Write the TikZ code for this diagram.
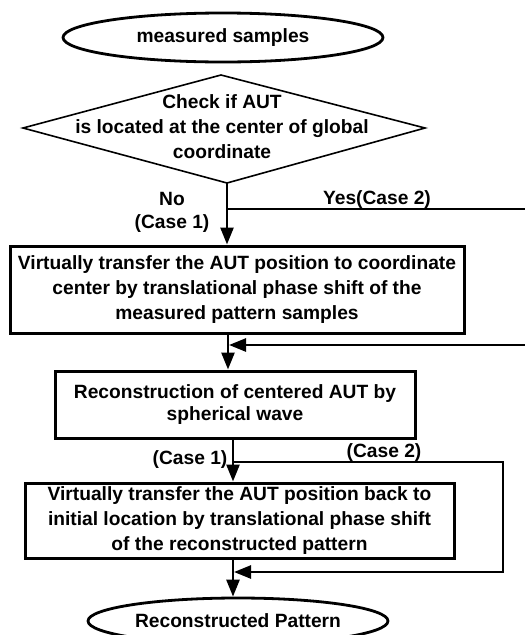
\documentclass[tikz,border=0pt]{standalone}
\usepackage{fontspec}
\setmainfont{Liberation Sans}
\usetikzlibrary{arrows.meta,shapes.geometric}
\begin{document}
\begin{tikzpicture}[x=1pt,y=-1pt,
  txt/.style={font=\bfseries\fontsize{19.2}{25}\selectfont, align=center, inner sep=0pt},
  boxnode/.style={draw, line width=3pt, inner sep=0pt, font=\bfseries\fontsize{19.2}{25}\selectfont, align=center},
  ovalnode/.style={draw, ellipse, line width=2.8pt, inner sep=0pt, font=\bfseries\fontsize{19.2}{25}\selectfont},
  conn/.style={line width=2.6pt, -{Triangle[length=17pt,width=13pt]}},
  plainline/.style={line width=2.6pt}]
\clip (0,0) rectangle (525,635);
% terminals
\node[ovalnode, minimum width=320pt, minimum height=49pt] (start) at (223,37.5) {measured samples};
\node[ovalnode, minimum width=300pt, minimum height=46pt] (stop) at (238,621) {Reconstructed Pattern};
% decision
\coordinate (dT) at (221,75);
\coordinate (dR) at (425,128);
\coordinate (dB) at (227,183);
\coordinate (dL) at (23,128);
\draw[line width=1.6pt, line join=miter] (dT) -- (dR) -- (dB) -- (dL) -- cycle;
\node[txt] (dtext) at (222,127) {Check if AUT\\is located at the center of global\\coordinate};
% process boxes
\node[boxnode, minimum width=454pt, minimum height=87pt] (box1) at (237,289.5)
  {Virtually transfer the AUT position to coordinate\\center by translational phase shift of the\\measured pattern samples};
\node[boxnode, minimum width=360pt, minimum height=67pt, font=\bfseries\fontsize{19.2}{21.5}\selectfont] (box2) at (235,404.5)
  {Reconstruction of centered AUT by\\spherical wave};
\node[boxnode, minimum width=429pt, minimum height=75pt] (box3) at (239.5,520.5)
  {Virtually transfer the AUT position back to\\initial location by translational phase shift\\of the reconstructed pattern};
% spine columns
\coordinate (colA) at (228,0);
\coordinate (colB) at (233,0);
% No branch
\draw[conn] (dB) -- (dB |- box1.north);
\node[txt] (nolbl) at (172,199) {No};
\node[txt] (case1a) at (172,224) {(Case 1)};
% Yes branch (leaves the picture at the right and returns)
\coordinate (ys) at (228,209);
\coordinate (ye1) at (545,209);
\coordinate (ye2) at (545,345);
\coordinate (yin) at (229,345);
\draw[conn] (ys) -- (ye1) -- (ye2) -- (yin);
\node[txt] (yeslbl) at (377,200) {Yes(Case 2)};
% box1 -> box2
\draw[conn] (box1.south -| colA) -- (box2.north -| colA);
% box2 -> box3 (Case 1)
\draw[conn] (box2.south -| colB) -- (box3.north -| colB);
\node[txt] (case1b) at (190,460) {(Case 1)};
% Case 2 bypass
\coordinate (cs) at (233,462);
\coordinate (ce1) at (503,462);
\coordinate (ce2) at (503,572);
\coordinate (cin) at (234,572);
\draw[conn] (cs) -- (ce1) -- (ce2) -- (cin);
\node[txt] (case2b) at (384,453) {(Case 2)};
% box3 -> end
\draw[conn] (box3.south -| colB) -- (stop.north -| colB);
\end{tikzpicture}
\end{document}
